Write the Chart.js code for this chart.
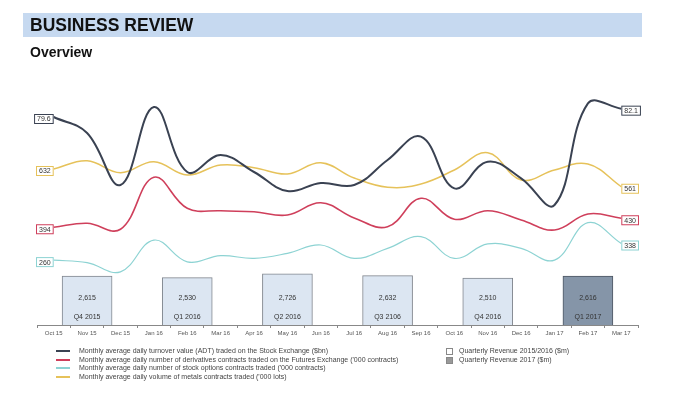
<!DOCTYPE html>
<html>
<head>
<meta charset="utf-8">
<script src="https://cdn.jsdelivr.net/npm/chart.js@4/dist/chart.umd.min.js"></script>
<style>
  body { margin: 0; background: #fff; font-family: "Liberation Sans", Arial, sans-serif; }
  #wrap { position: relative; width: 689px; height: 404px; overflow: hidden; }
  #chart { position: absolute; left: 0; top: 0; }
  .band { position: absolute; left: 23px; top: 13px; width: 619px; height: 24px; background: #c6d9f0; }
  .band span { position: absolute; left: 7px; top: 2px; font-size: 17.5px; font-weight: bold; color: #111; }
  .sub { position: absolute; left: 30px; top: 44px; font-size: 14px; font-weight: bold; color: #111; }
  .leg { position: absolute; font-size: 7px; color: #444; white-space: nowrap; line-height: 9px; }
  .leg i { display: inline-block; width: 14px; height: 0; border-top: 2px solid; vertical-align: middle; margin-right: 9px; }
  .leg b { display: inline-block; width: 5px; height: 5px; border: 1px solid #888; vertical-align: middle; margin-right: 6px; }
</style>
</head>
<body>
<div id="wrap">
  <canvas id="chart" width="689" height="404"></canvas>
  <div class="band"><span>BUSINESS REVIEW</span></div>
  <div class="sub">Overview</div>
  <div id="legend"></div>
</div>
<script>
// Months on the x axis
const months = ['Oct 15', 'Nov 15', 'Dec 15', 'Jan 16', 'Feb 16', 'Mar 16', 'Apr 16', 'May 16', 'Jun 16',
                'Jul 16', 'Aug 16', 'Sep 16', 'Oct 16', 'Nov 16', 'Dec 16', 'Jan 17', 'Feb 17', 'Mar 17'];

// Monthly series
const adtValues = [79.6, 74.8, 59.2, 82.6, 63.1, 68.2, 63.1, 57.4, 59.8, 59.2, 66.7, 73.7, 58.2, 66.2, 61.2, 53.2, 83.7, 82.1];
const derivValues = [394, 410, 386, 594, 470, 460, 456, 443, 492, 431, 396, 510, 426, 460, 423, 383, 447, 430];
const optionValues = [260, 248, 205, 354, 252, 281, 268, 292, 331, 268, 315, 370, 268, 336, 315, 260, 436, 338];
const metalsValues = [632, 665, 617, 661, 608, 648, 637, 612, 657, 596, 559, 572, 628, 697, 588, 628, 652, 561];

// Quarterly revenue ($m), placed on the middle month of each quarter
const revenue1516 = [null, 2615, null, null, 2530, null, null, 2726, null, null, 2632, null, null, 2510, null, null, null, null];
const revenue2017 = [null, null, null, null, null, null, null, null, null, null, null, null, null, null, null, null, 2616, null];
const quarterLabels = [null, 'Q4 2015', null, null, 'Q1 2016', null, null, 'Q2 2016', null, null, 'Q3 2106', null, null, 'Q4 2016', null, null, 'Q1 2017', null];

const seriesInfo = [
    { label: 'Monthly average daily turnover value (ADT) traded on the Stock Exchange ($bn)', color: '#3a4252' },
    { label: "Monthly average daily number of derivatives contracts traded on the Futures Exchange ('000 contracts)", color: '#cf3f5b' },
    { label: "Monthly average daily number of stock options contracts traded ('000 contracts)", color: '#8dd3d3' },
    { label: "Monthly average daily volume of metals contracts traded ('000 lots)", color: '#e6c25a' }
];

// Boxes with first / last values at both ends of each line
const endLabels = {
    id: 'endLabels',
    afterDatasetsDraw(chart) {
        const ctx = chart.ctx;
        ctx.save();
        ctx.font = '7px "Liberation Sans", Arial, sans-serif';
        ctx.textBaseline = 'middle';
        chart.data.datasets.forEach((ds, i) => {
            if (ds.type !== 'line') return;
            const pts = chart.getDatasetMeta(i).data;
            const ends = [[pts[0], ds.data[0], 'left'], [pts[pts.length - 1], ds.data[ds.data.length - 1], 'right']];
            ends.forEach(([p, v, side]) => {
                const txt = String(v);
                const w = ctx.measureText(txt).width + 6;
                const h = 10;
                const x = side === 'left' ? p.x - w : p.x;
                const y = p.y - 3;
                ctx.fillStyle = '#fff';
                ctx.fillRect(x, y, w, h);
                ctx.strokeStyle = ds.borderColor;
                ctx.lineWidth = 1;
                ctx.strokeRect(x + 0.5, y + 0.5, w - 1, h - 1);
                ctx.fillStyle = '#333';
                ctx.textAlign = 'center';
                ctx.fillText(txt, x + w / 2, y + h / 2 + 0.5);
            });
        });
        // text inside revenue bars
        chart.data.datasets.forEach((ds, i) => {
            if (ds.type !== 'bar') return;
            chart.getDatasetMeta(i).data.forEach((bar, j) => {
                if (ds.data[j] == null) return;
                ctx.fillStyle = '#333';
                ctx.textAlign = 'center';
                ctx.fillText(ds.data[j].toLocaleString('en-US'), bar.x, bar.base - 27);
                ctx.fillText(quarterLabels[j], bar.x, bar.base - 8);
            });
        });
        ctx.restore();
    }
};

function lineSet(data, info, axis, width) {
    return {
        type: 'line', label: info.label, data: data, yAxisID: axis,
        borderColor: info.color, borderWidth: width, tension: 0.4,
        pointRadius: 0, fill: false, order: 1
    };
}

new Chart(document.getElementById('chart'), {
    type: 'bar',
    data: {
        labels: months,
        datasets: [
            { type: 'bar', label: 'Quarterly Revenue 2015/2016 ($m)', data: revenue1516, yAxisID: 'yRev',
              backgroundColor: '#dce6f2', borderColor: '#80868e', borderWidth: 1, barThickness: 50, grouped: false, order: 2 },
            { type: 'bar', label: 'Quarterly Revenue 2017 ($m)', data: revenue2017, yAxisID: 'yRev',
              backgroundColor: '#8595a8', borderColor: '#4d5662', borderWidth: 1, barThickness: 50, grouped: false, order: 2 },
            lineSet(adtValues, seriesInfo[0], 'yAdt', 2),
            lineSet(derivValues, seriesInfo[1], 'yDeriv', 1.6),
            lineSet(optionValues, seriesInfo[2], 'yOpt', 1.2),
            lineSet(metalsValues, seriesInfo[3], 'yMetals', 1.5)
        ]
    },
    options: {
        responsive: false,
        animation: false,
        devicePixelRatio: 1,
        layout: { padding: { left: 37, right: 51, top: 95, bottom: 64 } },
        plugins: { legend: { display: false }, tooltip: { enabled: false } },
        scales: {
            x: {
                offset: true,
                grid: { offset: true, drawOnChartArea: false, tickLength: 3, color: '#888' },
                border: { color: '#888' },
                ticks: { font: { size: 6, family: '"Liberation Sans", Arial' }, color: '#555', padding: 2, maxRotation: 0, autoSkip: false },
                afterFit: s => { s.height = 15; }
            },
            yAdt: { display: false, min: 17.2, max: 86.2 },
            yDeriv: { display: false, min: 3, max: 923 },
            yOpt: { display: false, min: -45, max: 1036 },
            yMetals: { display: false, min: 8, max: 928 },
            yRev: { display: false, min: 0, max: 12274 }
        }
    },
    plugins: [endLabels]
});

// Legend below the chart
const legend = document.getElementById('legend');
seriesInfo.forEach((s, i) => {
    const d = document.createElement('div');
    d.className = 'leg';
    d.style.left = '56px';
    d.style.top = (346 + i * 8.5) + 'px';
    d.innerHTML = '<i style="border-color:' + s.color + '"></i>' + s.label;
    legend.appendChild(d);
});
[['Quarterly Revenue 2015/2016 ($m)', '#fff'], ['Quarterly Revenue 2017 ($m)', '#999']].forEach((r, i) => {
    const d = document.createElement('div');
    d.className = 'leg';
    d.style.left = '446px';
    d.style.top = (346 + i * 9) + 'px';
    d.innerHTML = '<b style="background:' + r[1] + '"></b>' + r[0];
    legend.appendChild(d);
});
</script>
</body>
</html>
